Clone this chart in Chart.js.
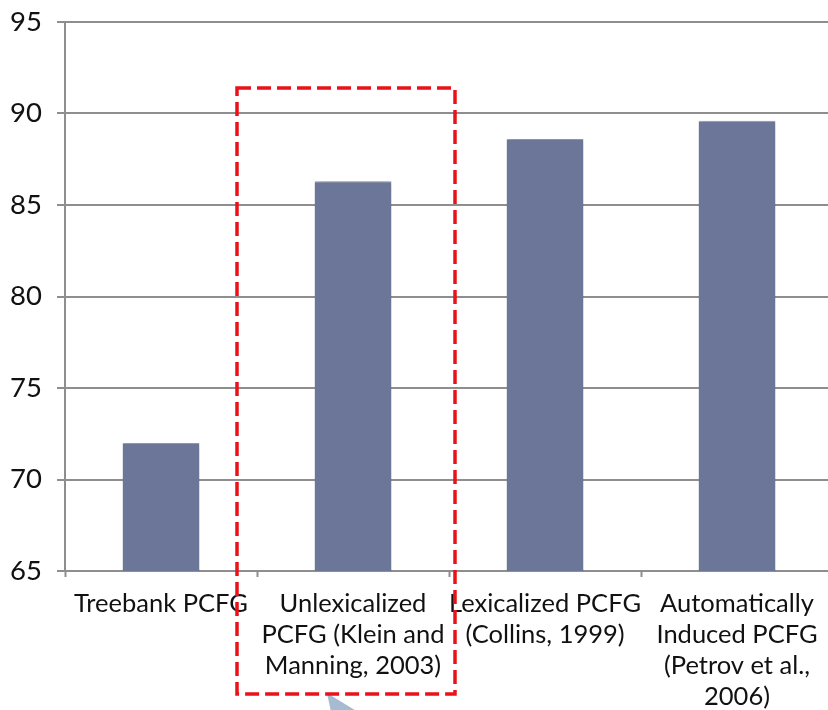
<!DOCTYPE html>
<html>
<head>
<meta charset="utf-8">
<script src="https://cdn.jsdelivr.net/npm/chart.js@4/dist/chart.umd.min.js"></script>
<style>
  html, body { margin: 0; padding: 0; background: #fff; overflow: hidden; }
  #wrap { position: absolute; left: 0; top: 0; width: 840px; height: 710px; }
</style>
</head>
<body>
<div id="wrap"><canvas id="c"></canvas></div>
<script>
// Parser accuracy (F1) by grammar type
const categories = [
  'Treebank PCFG',
  ['Unlexicalized', 'PCFG (Klein and', 'Manning, 2003)'],
  ['Lexicalized PCFG', '(Collins, 1999)'],
  ['Automatically', 'Induced PCFG', '(Petrov et al.,', '2006)']
];
const f1Scores = [72.0, 86.3, 88.6, 89.6];
const yMin = 65;
const yMax = 95;
const yStep = 5;
const highlightedIndex = 1;

const FONT = "Lato, 'Open Sans', sans-serif";
const GRID = '#8e8e8e';

// soft shadow behind the bars
const barShadow = {
  id: 'barShadow',
  beforeDatasetsDraw(chart) {
    const ctx = chart.ctx;
    ctx.save();
    ctx.shadowColor = 'rgba(0,0,0,0.28)';
    ctx.shadowBlur = 7;
    ctx.shadowOffsetX = 2;
    ctx.shadowOffsetY = 1;
  },
  afterDatasetsDraw(chart) { chart.ctx.restore(); }
};

// dashed red frame around the highlighted category, plus the callout pointer
const highlightBox = {
  id: 'highlightBox',
  afterDraw(chart) {
    const ctx = chart.ctx;
    const xs = chart.scales.x, ys = chart.scales.y;
    const cx = xs.getPixelForValue(highlightedIndex) - 7;
    const half = 109;
    const top = ys.getPixelForValue(91.4);
    const bottom = chart.chartArea.bottom + 123;

    ctx.save();
    ctx.fillStyle = '#a6bad2';
    ctx.beginPath();
    ctx.moveTo(cx - 19, bottom - 1);
    ctx.lineTo(cx + 12, 712);
    ctx.lineTo(cx - 15, 712);
    ctx.closePath();
    ctx.fill();

    ctx.strokeStyle = '#ea1218';
    ctx.lineWidth = 3.5;
    ctx.setLineDash([14, 6]);
    ctx.strokeRect(cx - half, top, half * 2, bottom - top);
    ctx.restore();
  }
};

new Chart(document.getElementById('c'), {
  type: 'bar',
  data: {
    labels: categories,
    datasets: [{
      data: f1Scores,
      backgroundColor: '#6b7699',
      borderColor: '#9aa4c2',
      borderWidth: { top: 1, left: 0, right: 0, bottom: 0 },
      borderSkipped: false,
      categoryPercentage: 1.0,
      barPercentage: 0.4
    }]
  },
  options: {
    responsive: true,
    maintainAspectRatio: false,
    animation: false,
    layout: { padding: { top: 22, right: 7, left: 0, bottom: 0 } },
    plugins: { legend: { display: false }, tooltip: { enabled: false } },
    scales: {
      x: {
        grid: {
          drawOnChartArea: false,
          drawTicks: true,
          tickLength: 6,
          tickColor: GRID,
          tickWidth: 2,
          offset: true
        },
        border: { color: GRID, width: 2 },
        ticks: {
          color: '#111',
          font: { family: FONT, size: 25.5, lineHeight: 1.22 },
          padding: 11,
          maxRotation: 0,
          minRotation: 0,
          autoSkip: false
        },
        afterFit(scale) { scale.height = 139; }
      },
      y: {
        min: yMin,
        max: yMax,
        ticks: {
          stepSize: yStep,
          color: '#111',
          font: { family: FONT, size: 27.5 },
          padding: 15
        },
        grid: {
          color: GRID,
          lineWidth: 2,
          tickLength: 8,
          tickColor: GRID
        },
        border: { color: GRID, width: 2 },
        afterFit(scale) {
          scale.width = 65;
          scale.paddingTop = 16;
        }
      }
    }
  },
  plugins: [barShadow, highlightBox]
});
</script>
</body>
</html>
